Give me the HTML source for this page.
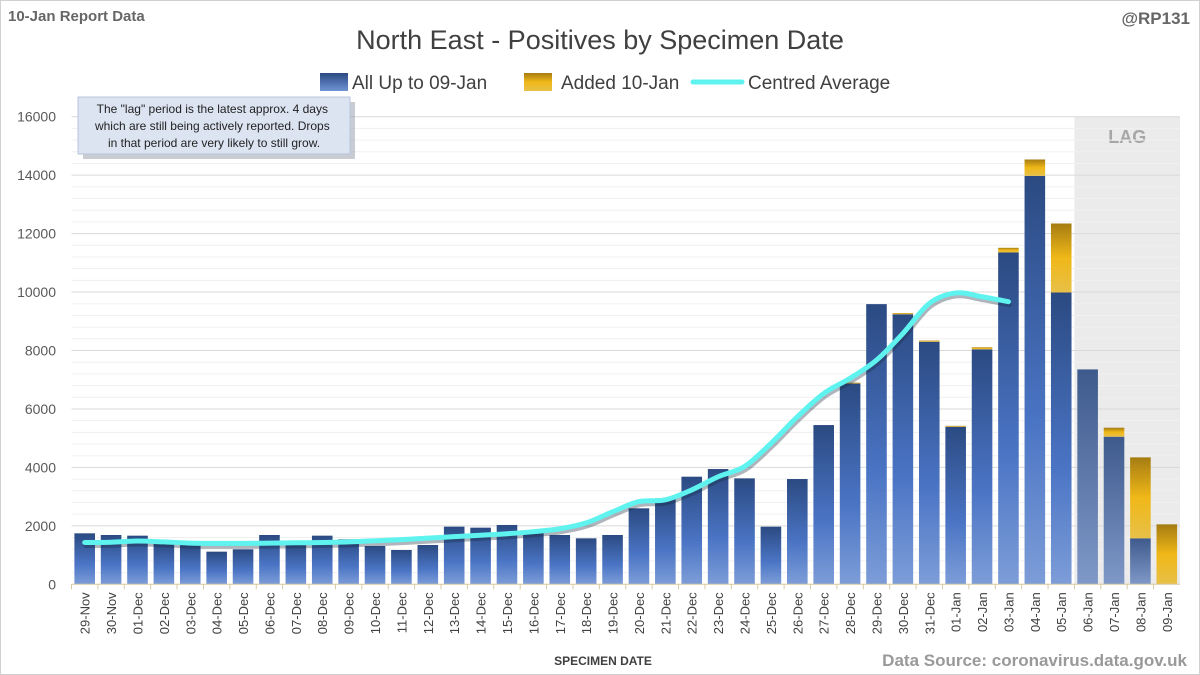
<!DOCTYPE html>
<html><head><meta charset="utf-8"><style>
body{margin:0;background:#fff;}
svg{display:block;font-family:"Liberation Sans",sans-serif;}
</style></head><body>
<svg id="chart" width="1200" height="675" viewBox="0 0 1200 675">
<defs>
<linearGradient id="gb" x1="0" y1="0" x2="0" y2="1"><stop offset="0" stop-color="#2b4a82"/><stop offset="0.6" stop-color="#4a74c4"/><stop offset="1" stop-color="#7d9dd8"/></linearGradient>
<linearGradient id="gl" x1="0" y1="0" x2="0" y2="1"><stop offset="0" stop-color="#3e5a8c"/><stop offset="1" stop-color="#7f98c8"/></linearGradient>
<linearGradient id="gg" x1="0" y1="0" x2="0" y2="1"><stop offset="0" stop-color="#a57c12"/><stop offset="0.5" stop-color="#f0b818"/><stop offset="1" stop-color="#e8c048"/></linearGradient>
<linearGradient id="lgb" x1="0" y1="0" x2="0" y2="1"><stop offset="0" stop-color="#2b4a82"/><stop offset="1" stop-color="#6f93d4"/></linearGradient>
</defs>
<rect x="0.5" y="0.5" width="1199" height="674" fill="#fff" stroke="#d0d0d0"/>
<text x="8" y="21" font-size="15" font-weight="bold" fill="#666">10-Jan Report Data</text>
<text x="1190" y="24" font-size="17" font-weight="bold" fill="#666" text-anchor="end">@RP131</text>
<text x="600" y="49" font-size="27" fill="#404040" text-anchor="middle">North East - Positives by Specimen Date</text>
<g>
<rect x="320" y="73" width="28" height="18" fill="url(#lgb)"/>
<text x="352" y="89" font-size="19" fill="#404040">All Up to 09-Jan</text>
<rect x="524" y="73" width="28" height="18" fill="url(#gg)"/>
<text x="561" y="89" font-size="19" fill="#404040">Added 10-Jan</text>
<line x1="693" y1="82" x2="742" y2="82" stroke="#5ff3f0" stroke-width="5" stroke-linecap="round"/>
<text x="748" y="89" font-size="19" fill="#404040">Centred Average</text>
</g>
<g id="plot"></g>
<g>
<rect x="80" y="99" width="272" height="57" fill="#8a8fa0" opacity="0.45" transform="translate(3,3)"/>
<rect x="78" y="97" width="272" height="57" fill="#dce4f2" stroke="#b8c4dc"/>
<text font-size="12" fill="#222" text-anchor="middle">
<tspan x="214" y="113">The "lag" period is the latest approx. 4 days</tspan>
<tspan x="214" y="130">which are still being actively reported.  Drops</tspan>
<tspan x="214" y="147">in that period are very likely to still grow.</tspan></text>
</g>
<text x="603" y="665" font-size="12" font-weight="bold" fill="#404040" text-anchor="middle">SPECIMEN DATE</text>
<text x="1187" y="666" font-size="17" font-weight="bold" fill="#999" text-anchor="end">Data Source: coronavirus.data.gov.uk</text>
</svg>
<script>
const categories=["29-Nov","30-Nov","01-Dec","02-Dec","03-Dec","04-Dec","05-Dec","06-Dec","07-Dec","08-Dec","09-Dec","10-Dec","11-Dec","12-Dec","13-Dec","14-Dec","15-Dec","16-Dec","17-Dec","18-Dec","19-Dec","20-Dec","21-Dec","22-Dec","23-Dec","24-Dec","25-Dec","26-Dec","27-Dec","28-Dec","29-Dec","30-Dec","31-Dec","01-Jan","02-Jan","03-Jan","04-Jan","05-Jan","06-Jan","07-Jan","08-Jan","09-Jan"];
const baseValues=[1744,1687,1664,1400,1345,1117,1197,1687,1380,1664,1540,1311,1174,1345,1972,1938,2030,1800,1687,1573,1687,2600,2941,3682,3944,3625,1972,3602,5449,6870,9587,9240,8300,5392,8040,11354,13976,9986,7353,5050,1573,0];
const addedValues=[0,0,0,0,0,0,0,0,0,0,0,0,0,0,0,0,0,0,0,0,0,0,0,0,0,0,0,0,0,30,0,40,40,30,70,160,560,2360,0,308,2770,2052];
const avgValues=[1430,1440,1480,1450,1410,1400,1400,1410,1420,1430,1450,1490,1530,1580,1630,1680,1730,1800,1900,2100,2480,2830,2890,3230,3680,4030,4820,5730,6530,7050,7670,8580,9610,9970,9840,9670];
const yTicks=[0,2000,4000,6000,8000,10000,12000,14000,16000];
const lagStart=38;

const NS="http://www.w3.org/2000/svg";
const plot=document.getElementById('plot');
const X0=71.5,X1=1180,Y0=584.3,Y1=116.7,YMAX=16000;
const step=(X1-X0)/categories.length;
const xC=i=>X0+step*(i+0.5);
const yS=v=>Y0-(v/YMAX)*(Y0-Y1);
function mk(tag,attrs){const e=document.createElementNS(NS,tag);for(const k in attrs)e.setAttribute(k,attrs[k]);plot.appendChild(e);return e;}

// lag shading
const lag=mk('rect',{x:X0+step*lagStart,y:Y1,width:X1-(X0+step*lagStart),height:Y0-Y1,fill:'#ebebeb'});


const lagT=mk('text',{x:(X0+step*lagStart+X1)/2,y:143,'font-size':18,'font-weight':'bold',fill:'#a6a6a6','text-anchor':'middle'});
lagT.textContent='LAG';



// minor grid
for(let v=400;v<=YMAX;v+=400){
 const g=mk('line',{x1:X0,x2:X1,y1:yS(v),y2:yS(v),stroke:(v%2000===0)?'#d9d9d9':'#f0f0f0','stroke-width':1});
 
 
}
yTicks.forEach(v=>{
 const t=mk('text',{x:56,y:yS(v)+5,'font-size':14,fill:'#595959','text-anchor':'end'});
 t.textContent=v;
 
 
});
// bars
const bw=step*0.78;
categories.forEach((c,i)=>{
 const b=baseValues[i],a=addedValues[i];
 if(b>0){
  const r=mk('rect',{x:xC(i)-bw/2,y:yS(b),width:bw,height:Y0-yS(b),fill:i>=lagStart?'url(#gl)':'url(#gb)'});
  
  
 }
 if(a>0){
  const r2=mk('rect',{x:xC(i)-bw/2,y:yS(b+a),width:bw,height:yS(b)-yS(b+a),fill:'url(#gg)'});
  
  
 }
 const tk=mk('line',{x1:X0+step*i,x2:X0+step*i,y1:Y0,y2:Y0+5,stroke:'#d9c9a0'});
 
 
 const t=mk('text',{x:0,y:0,'font-size':13,fill:'#404040','text-anchor':'end',transform:`translate(${xC(i)+5},${Y0+8}) rotate(-90)`});
 t.textContent=c;
 
 
});
const ax=mk('line',{x1:X0,x2:X1,y1:Y0,y2:Y0,stroke:'#d9c9a0'});


// smooth average line (Catmull-Rom)
const pts=avgValues.map((v,i)=>[xC(i),yS(v)]);
let d=`M${pts[0][0]},${pts[0][1]}`;
for(let i=0;i<pts.length-1;i++){
 const p0=pts[i-1]||pts[i],p1=pts[i],p2=pts[i+1],p3=pts[i+2]||p2;
 d+=` C${p1[0]+(p2[0]-p0[0])/6},${p1[1]+(p2[1]-p0[1])/6} ${p2[0]-(p3[0]-p1[0])/6},${p2[1]-(p3[1]-p1[1])/6} ${p2[0]},${p2[1]}`;
}
const sh=mk('path',{d:d,fill:'none',stroke:'#1a2a40','stroke-width':5,opacity:0.35,transform:'translate(1,3)','stroke-linecap':'round'});


const ln=mk('path',{d:d,fill:'none',stroke:'#5ff3f0','stroke-width':5,'stroke-linecap':'round','stroke-linejoin':'round'});


</script>
</body></html>
